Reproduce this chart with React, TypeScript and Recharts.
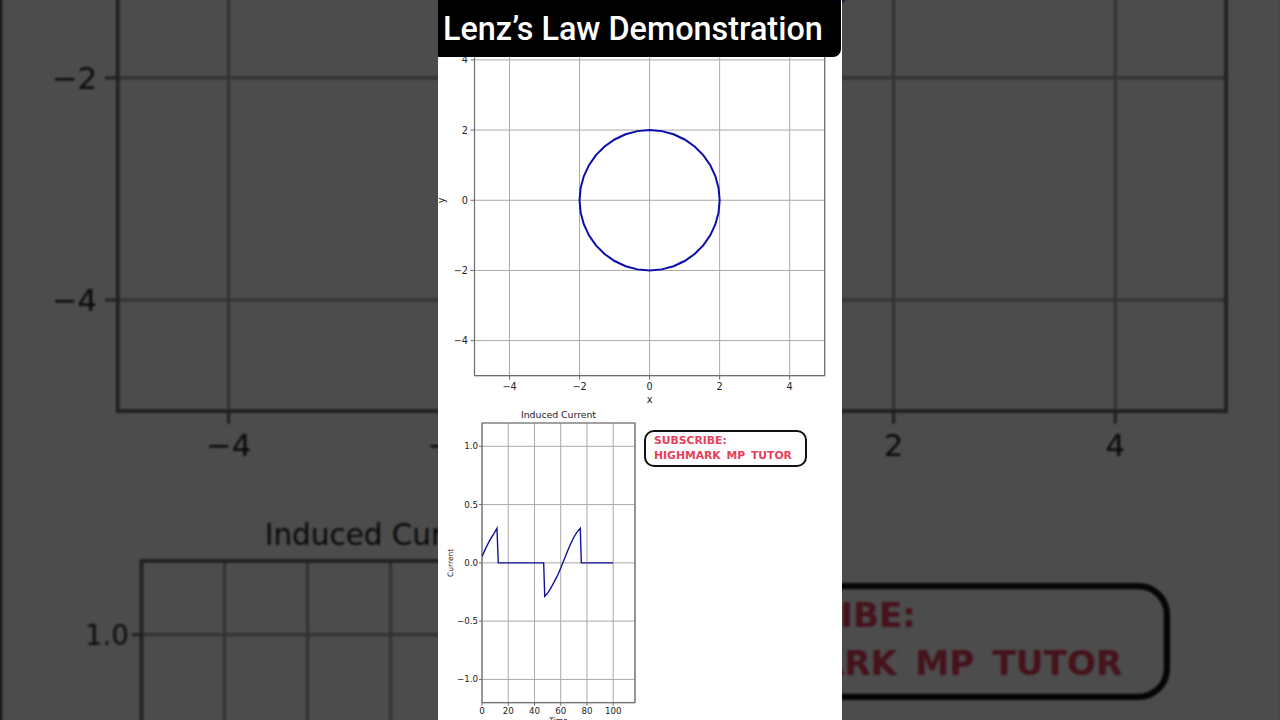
import React from "react"
import { LineChart, Line, XAxis, YAxis, CartesianGrid, ReferenceArea, Label } from "recharts"

// circle traced by the loop (radius 2), read every 10 degrees
const circleX = [
  2, 1.97, 1.879, 1.732, 1.532, 1.286, 1, 0.684, 0.347, 0,
  -0.347, -0.684, -1, -1.286, -1.532, -1.732, -1.879, -1.97, -2,
  -1.97, -1.879, -1.732, -1.532, -1.286, -1, -0.684, -0.347, 0,
  0.347, 0.684, 1, 1.286, 1.532, 1.732, 1.879, 1.97, 2,
]
const circleY = [
  0, 0.347, 0.684, 1, 1.286, 1.532, 1.732, 1.879, 1.97, 2,
  1.97, 1.879, 1.732, 1.532, 1.286, 1, 0.684, 0.347, 0,
  -0.347, -0.684, -1, -1.286, -1.532, -1.732, -1.879, -1.97, -2,
  -1.97, -1.879, -1.732, -1.532, -1.286, -1, -0.684, -0.347, 0,
]
const xyTicks = [-4, -2, 0, 2, 4]

// induced current over time
const currentT = [0, 2, 4, 6, 8, 10, 11.4, 12.4, 47, 47.8, 50, 52, 54, 56, 58, 60, 62, 64, 66, 68, 70, 72, 74, 74.9, 75.7, 100]
const currentI = [0.052, 0.105, 0.152, 0.195, 0.232, 0.268, 0.297, 0, 0, -0.287, -0.26, -0.225, -0.185, -0.142, -0.098, -0.045, 0.012, 0.068, 0.124, 0.175, 0.22, 0.258, 0.285, 0.297, 0, 0]
const timeTicks = [0, 20, 40, 60, 80, 100]
const currentTicks = [-1, -0.5, 0, 0.5, 1]

const circleData = circleX.map((x, k) => ({ x, y: circleY[k] }))
const currentData = currentT.map((t, k) => ({ t, i: currentI[k] }))

const minus = (s: string) => s.replace("-", "\u2212")
const font = "DejaVu Sans"
const gridColor = "#a8a8a8"
const frameColor = "#6e6e6e"

function LoopChart() {
  const tick = { fontSize: 9.7, fill: "#222", fontFamily: font }
  return (
    <LineChart width={404} height={410} data={circleData} margin={{ top: 24.8, right: 17.3, bottom: 4.3, left: 0 }}>
      <CartesianGrid stroke={gridColor} strokeWidth={1} />
      <XAxis dataKey="x" type="number" domain={[-5, 5]} ticks={xyTicks} interval={0} allowDataOverflow
        height={30} tick={tick} tickSize={4} tickMargin={3.3} axisLine={false} tickLine={{ stroke: frameColor }}
        tickFormatter={(v) => minus(String(v))}>
        <Label value="x" position="insideBottom" offset={2.7} style={{ fontSize: 9.7, fill: "#222", fontFamily: font }} />
      </XAxis>
      <YAxis type="number" domain={[-5, 5]} ticks={xyTicks} interval={0} allowDataOverflow
        width={36.5} tick={tick} tickSize={4} tickMargin={2.5} axisLine={false} tickLine={{ stroke: frameColor }}
        tickFormatter={(v) => minus(String(v))}>
        <Label value="y" angle={-90} position="insideLeft" offset={4} style={{ fontSize: 9.7, fill: "#222", fontFamily: font, textAnchor: "middle" }} />
      </YAxis>
      <ReferenceArea x1={-5} x2={5} y1={-5} y2={5} fill="none" stroke={frameColor} strokeWidth={1.2} />
      <Line dataKey="y" type="linear" stroke="#0c0caa" strokeWidth={2} dot={false} isAnimationActive={false} />
    </LineChart>
  )
}

function CurrentChart() {
  const tick = { fontSize: 8.7, fill: "#222", fontFamily: font }
  return (
    <LineChart width={205} height={340} data={currentData} margin={{ top: 23, right: 8, bottom: 7.3, left: 0 }}>
      <CartesianGrid stroke={gridColor} strokeWidth={1} />
      <XAxis dataKey="t" type="number" domain={[0, 116.6]} ticks={timeTicks} interval={0} allowDataOverflow
        height={30} tick={tick} tickSize={3} tickMargin={2.3} axisLine={false} tickLine={{ stroke: frameColor }}>
        <Label value="Time" position="insideBottom" offset={9.7} style={{ fontSize: 7.5, fill: "#222", fontFamily: font }} />
      </XAxis>
      <YAxis type="number" domain={[-1.2, 1.2]} ticks={currentTicks} interval={0} allowDataOverflow
        width={44} tick={tick} tickSize={3} tickMargin={1} axisLine={false} tickLine={{ stroke: frameColor }}
        tickFormatter={(v) => minus(Number(v).toFixed(1))}>
        <Label value="Current" angle={-90} position="insideLeft" offset={12} style={{ fontSize: 7.5, fill: "#222", fontFamily: font, textAnchor: "middle" }} />
      </YAxis>
      <ReferenceArea x1={0} x2={116.6} y1={-1.2} y2={1.2} fill="none" stroke={frameColor} strokeWidth={1.2} />
      <Line dataKey="i" type="linear" stroke="#12129e" strokeWidth={1.4} dot={false} isAnimationActive={false} />
    </LineChart>
  )
}

function Figure() {
  return (
    <div style={{ position: "relative", width: 404, height: 720, background: "#fff", fontFamily: font }}>
      <div style={{ position: "absolute", left: 0, top: 0 }}>
        <LoopChart />
      </div>
      <div style={{ position: "absolute", left: 44, top: 408, width: 153, lineHeight: "14px", textAlign: "center", fontSize: 9.3, color: "#222" }}>
        Induced Current
      </div>
      <div style={{ position: "absolute", left: 0, top: 400 }}>
        <CurrentChart />
      </div>
      <div style={{
        position: "absolute", left: 206, top: 430, width: 159, height: 33, border: "2px solid #111", borderRadius: 10,
        boxSizing: "content-box",
      }}>
        <div style={{ position: "absolute", left: 8, top: 2, fontFamily: font, fontWeight: 700, fontSize: 10.8, lineHeight: "14.5px", color: "#e8405a", wordSpacing: 2, whiteSpace: "nowrap" }}>
          SUBSCRIBE:<br />HIGHMARK MP TUTOR
        </div>
      </div>
    </div>
  )
}

export default function App() {
  return (
    <div style={{ position: "fixed", left: 0, top: 0, width: 1280, height: 720, overflow: "hidden", background: "#4d4d4d" }}>
      <div style={{ position: "absolute", left: 0, top: 0, width: 404, height: 720, transformOrigin: "0 0", transform: "translate(2.2px, -778px) scale(3.165)", filter: "blur(0.3px)" }}>
        <Figure />
      </div>
      <div style={{ position: "absolute", inset: 0, background: "rgba(0,0,0,0.7)" }} />
      <div style={{ position: "absolute", left: 438, top: 0, width: 404, height: 720, overflow: "hidden", background: "#fff" }}>
        <Figure />
        <div style={{
          position: "absolute", left: 0, top: 0, width: 403, height: 57, background: "#000", borderBottomRightRadius: 8,
          color: "#fff", fontFamily: "Roboto", fontWeight: 500, fontSize: 32.4, lineHeight: "58px", paddingLeft: 5, boxSizing: "border-box", whiteSpace: "nowrap",
        }}>
          Lenz’s Law Demonstration
        </div>
      </div>
    </div>
  )
}
